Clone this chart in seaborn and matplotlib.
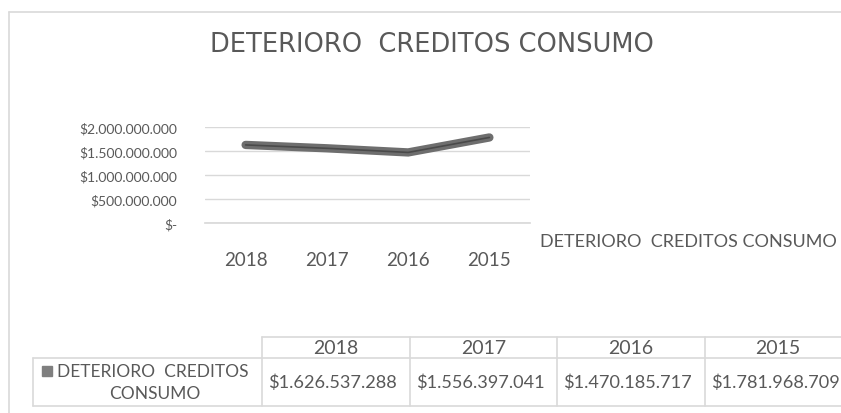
import pandas as pd
import seaborn as sns
import matplotlib.pyplot as plt
from matplotlib.lines import Line2D
from matplotlib.patches import Rectangle

# --- datos ---
years = ['2018', '2017', '2016', '2015']
deterioro = [1626537288, 1556397041, 1470185717, 1781968709]
y_ticks = [0, 500000000, 1000000000, 1500000000, 2000000000]
y_labels = ['$-', '$500.000.000', '$1.000.000.000', '$1.500.000.000', '$2.000.000.000']
series_name = 'DETERIORO  CREDITOS CONSUMO'
title = 'DETERIORO  CREDITOS CONSUMO'

TXT = '#595959'
GRID = '#d9d9d9'
LINE = '#6e6e6e'


def money(v):
    return '$' + f'{v:,}'.replace(',', '.')


sns.set_theme(style='white')
plt.rcParams['font.family'] = ['Lato', 'DejaVu Sans']

df = pd.DataFrame({'year': years, 'valor': deterioro})

fig = plt.figure(figsize=(8.41, 4.14), dpi=100)
W, H = 841, 414


def fx(px):
    return px / W


def fy(py):
    return 1 - py / H


# borde del area del grafico (recortado a la derecha y abajo)
fig.add_artist(Line2D([fx(9), fx(9)], [fy(13), 0], color=GRID, lw=1.2))
fig.add_artist(Line2D([fx(9), 1], [fy(13), fy(13)], color=GRID, lw=1.2))

fig.text(fx(432), fy(45), title, ha='center', va='center', fontsize=18.5,
         color=TXT, family=['DejaVu Sans'])

ax = fig.add_axes([fx(205), fy(224), fx(530 - 205), (224 - 128) / H])
sns.lineplot(data=df, x='year', y='valor', ax=ax, color=LINE, linewidth=6,
             solid_joinstyle='miter', sort=False)
sns.lineplot(data=df, x='year', y='valor', ax=ax, color='#4a4a4a', linewidth=1.2,
             sort=False)
ax.set_ylim(0, 2000000000)
ax.set_xlim(-0.5, len(years) - 0.5)
ax.set_yticks(y_ticks)
ax.set_yticklabels(y_labels)
ax.set_xlabel('')
ax.set_ylabel('')
ax.grid(axis='y', color=GRID, lw=1)
ax.grid(axis='x', visible=False)
for s in ['top', 'right', 'left']:
    ax.spines[s].set_visible(False)
ax.spines['bottom'].set_color(GRID)
ax.tick_params(axis='y', length=0, labelsize=10, labelcolor=TXT, pad=20)
ax.tick_params(axis='x', length=0, labelsize=13.5, labelcolor=TXT, pad=20)
ax.set_xticks(range(len(years)), minor=False)
ax.set_xticks([i + 0.5 for i in range(-1, len(years))], minor=True)
ax.tick_params(axis='x', which='minor', length=6, color=GRID, direction='out')
ax.set_facecolor('none')

fig.text(fx(540), fy(242), series_name, ha='left', va='center', fontsize=13, color=TXT)

# --- tabla de datos ---
col_edges = [262, 410, 557, 705, 854]
top, mid, bot, left = 338, 359, 407, 33
fig.add_artist(Line2D([fx(col_edges[0]), 1], [fy(top), fy(top)], color=GRID, lw=1.2))
fig.add_artist(Line2D([fx(left), 1], [fy(mid), fy(mid)], color=GRID, lw=1.2))
fig.add_artist(Line2D([fx(left), 1], [fy(bot), fy(bot)], color=GRID, lw=1.2))
fig.add_artist(Line2D([fx(left), fx(left)], [fy(mid), fy(bot)], color=GRID, lw=1.2))
for xe in col_edges[:-1]:
    fig.add_artist(Line2D([fx(xe), fx(xe)], [fy(top), fy(bot)], color=GRID, lw=1.2))
for i, (yr, v) in enumerate(zip(years, deterioro)):
    cx = (col_edges[i] + col_edges[i + 1]) / 2 - (2 if i == 3 else 0)
    fig.text(fx(cx), fy((top + mid) / 2), yr, ha='center', va='center', fontsize=14,
             color=TXT)
    fig.text(fx(col_edges[i] + 6), fy((mid + bot) / 2), money(v), ha='left', va='center',
             fontsize=13.1, color=TXT)

fig.add_artist(Rectangle((fx(42), fy(377)), fx(10), 10 / H, color='#7f7f7f'))
fig.text(fx(57), fy(372), 'DETERIORO  CREDITOS', ha='left', va='center', fontsize=12.5,
         color=TXT)
fig.text(fx(155), fy(394), 'CONSUMO', ha='center', va='center', fontsize=12.5, color=TXT)

plt.savefig('out.png', dpi=100)
